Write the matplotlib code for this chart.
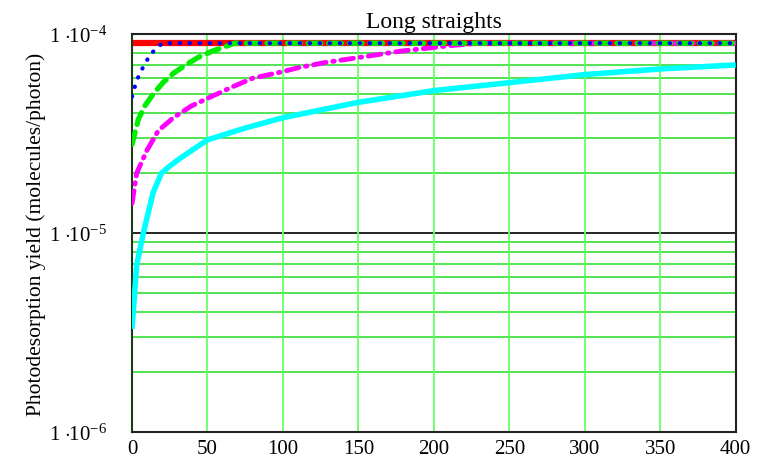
import numpy as np
import matplotlib
matplotlib.use("Agg")
import matplotlib.pyplot as plt
from matplotlib.ticker import FixedLocator, NullFormatter

plt.rcParams['font.family'] = ['Liberation Serif', 'DejaVu Serif']
plt.rcParams['mathtext.fontset'] = 'custom'
plt.rcParams['mathtext.rm'] = 'Liberation Serif'
plt.rcParams['mathtext.it'] = 'Liberation Serif:italic'

# values
red_x = [0, 400]
red_y = [9.0e-5, 9.0e-5]

blue_x = [0, 1.8, 3.8, 6.6, 9.5, 12.4, 16.5, 20, 400]
blue_y = [4.85e-5, 5.42e-5, 6.0e-5, 6.65e-5, 7.3e-5, 7.95e-5, 8.5e-5, 9.0e-5, 9.0e-5]

green_x = [0, 4.2, 8.6, 14.1, 20.7, 27.4, 35, 44, 53, 62.7, 68, 400]
green_y = [2.79e-5, 3.73e-5, 4.37e-5, 5.0e-5, 5.72e-5, 6.35e-5, 6.95e-5, 7.65e-5,
           8.2e-5, 8.7e-5, 9.0e-5, 9.0e-5]

magenta_x = [0, 3.1, 9.7, 17.4, 27.4, 39.5, 53.8, 67, 80, 98, 111, 129, 144, 177.5,
             210.6, 230, 400]
magenta_y = [1.41e-5, 2.0e-5, 2.59e-5, 3.27e-5, 3.8e-5, 4.36e-5, 4.9e-5, 5.45e-5,
             6.0e-5, 6.43e-5, 6.8e-5, 7.22e-5, 7.5e-5, 8.2e-5, 8.75e-5, 9.0e-5, 9.0e-5]

cyan_x = [0, 1, 3.1, 7.5, 14, 19.5, 25, 32, 50, 75, 100, 150, 200, 250, 300, 350, 400]
cyan_y = [3.3e-6, 4.2e-6, 6.9e-6, 1.0e-5, 1.6e-5, 2.0e-5, 2.17e-5, 2.38e-5, 2.94e-5,
          3.37e-5, 3.8e-5, 4.54e-5, 5.2e-5, 5.7e-5, 6.26e-5, 6.68e-5, 7.0e-5]

y_ticks = [1e-6, 1e-5, 1e-4]
y_labels = [r'$1\,\cdot\!\!10^{-6}$', r'$1\,\cdot\!\!10^{-5}$', r'$1\,\cdot\!\!10^{-4}$']

fig = plt.figure(figsize=(7.72, 4.6), dpi=100)
ax = fig.add_axes([0.171, 0.0587, 0.782, 0.865])

# grid
minor_y = [m * 10.0 ** e for e in (-6, -5) for m in range(2, 10)]
for yv in minor_y:
    ax.axhline(yv, color='#22dd22', lw=1.1, zorder=1)
ax.axhline(1e-5, color='black', lw=1.2, zorder=1)
for xv in range(50, 400, 50):
    ax.axvline(xv, color='#66ff66', lw=1.3, zorder=1)

ax.plot(cyan_x, cyan_y, color='cyan', lw=4, solid_capstyle='butt', zorder=3)
ax.plot(magenta_x, magenta_y, color='magenta', lw=3.5,
        dashes=(2.6, 1.4, 0.3, 1.4), dash_capstyle='round', zorder=4)
ax.plot(red_x, red_y, color='red', lw=4.5, zorder=2)
ax.plot(green_x, green_y, color='#00ee00', lw=3.8, dashes=(2.4, 1.5),
        dash_capstyle='round', zorder=5)
ax.plot(blue_x, blue_y, color='blue', lw=3.0, dashes=(0.1, 2.3),
        dash_capstyle='round', zorder=6)

ax.set_yscale('log')
ax.set_xlim(0, 400)
ax.set_ylim(1e-6, 1e-4)
ax.set_xticks(range(0, 401, 50))
ax.yaxis.set_major_locator(FixedLocator(y_ticks))
ax.yaxis.set_minor_locator(FixedLocator(minor_y))
ax.yaxis.set_minor_formatter(NullFormatter())
ax.set_yticklabels(y_labels)
ax.tick_params(axis='both', which='both', length=0, labelsize=15)
ax.tick_params(axis='x', pad=5)
ax.tick_params(axis='y', pad=18)
for lab in ax.get_yticklabels():
    lab.set_verticalalignment('center_baseline')

for s in ax.spines.values():
    s.set_linewidth(1.5)
    s.set_color('#222222')
ax.spines['left'].set_color('#1a3a1a')

ax.set_title('Long straights', fontsize=17, pad=5)
ax.set_ylabel('Photodesorption yield (molecules/photon)', fontsize=15.5, labelpad=2)

fig.savefig('out.png', dpi=100)
